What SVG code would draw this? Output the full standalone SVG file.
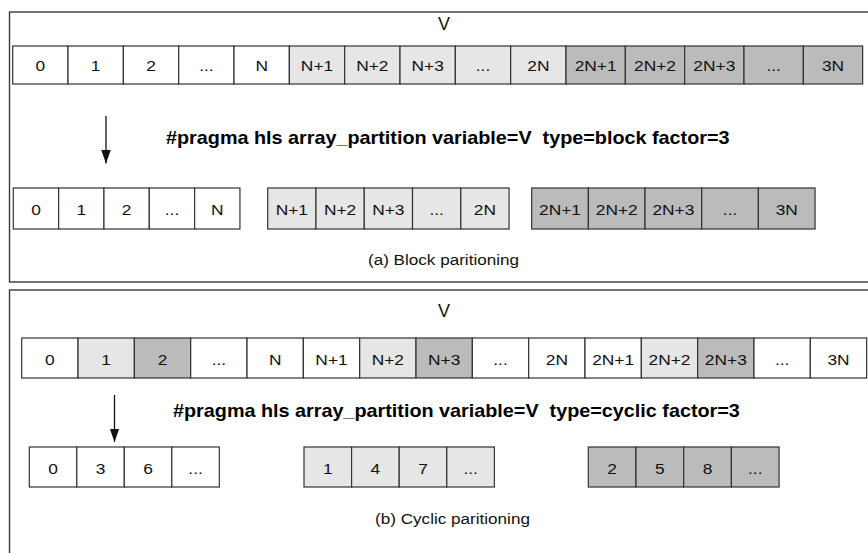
<svg xmlns="http://www.w3.org/2000/svg" width="868" height="553" viewBox="0 0 868 553">
  <style>
    .frame { fill: none; stroke: #3a3a3a; stroke-width: 1.4; }
    .c { stroke: #333; stroke-width: 1.2; }
    .w { fill: #ffffff; }
    .l { fill: #e6e6e6; }
    .d { fill: #bbbbbb; }
    .t { font-family: "Liberation Sans", Arial, sans-serif; font-size: 15.5px; fill: #111; text-anchor: middle; }
    .v { font-family: "Liberation Sans", Arial, sans-serif; font-size: 18px; fill: #111; text-anchor: middle; }
    .pragma { font-family: "Liberation Sans", Arial, sans-serif; font-size: 18px; font-weight: bold; fill: #000; white-space: pre; }
    .cap { font-family: "Liberation Sans", Arial, sans-serif; font-size: 15px; fill: #111; text-anchor: middle; }
    .arrow { stroke: #111; stroke-width: 1.3; fill: none; }
  </style>
  <defs>
    <marker id="head" markerUnits="userSpaceOnUse" markerWidth="15" markerHeight="11" refX="13.5" refY="4.75" orient="auto">
      <path d="M0,0 L13.5,4.75 L0,9.5 Z" fill="#111"/>
    </marker>
  </defs>

  <!-- (a) block partitioning panel -->
  <g id="panel-block">
    <rect class="frame" x="9.5" y="12" width="870" height="270"/>
    <text class="v" x="444" y="30">V</text>

    <!-- original array V -->
    <g id="block-source">
      <rect class="c w" x="12.7" y="46" width="55.33" height="38"/>
      <rect class="c w" x="68.03" y="46" width="55.33" height="38"/>
      <rect class="c w" x="123.36" y="46" width="55.33" height="38"/>
      <rect class="c w" x="178.69" y="46" width="55.33" height="38"/>
      <rect class="c w" x="234.02" y="46" width="55.33" height="38"/>
      <rect class="c l" x="289.35" y="46" width="55.33" height="38"/>
      <rect class="c l" x="344.68" y="46" width="55.33" height="38"/>
      <rect class="c l" x="400.01" y="46" width="55.33" height="38"/>
      <rect class="c l" x="455.34" y="46" width="55.33" height="38"/>
      <rect class="c l" x="510.67" y="46" width="55.33" height="38"/>
      <rect class="c d" x="566" y="46" width="59.33" height="38"/>
      <rect class="c d" x="625.33" y="46" width="59.33" height="38"/>
      <rect class="c d" x="684.66" y="46" width="59.33" height="38"/>
      <rect class="c d" x="743.99" y="46" width="59.33" height="38"/>
      <rect class="c d" x="803.32" y="46" width="59.33" height="38"/>
      <text class="t" transform="translate(40.37 71) scale(1.12 1)">0</text>
      <text class="t" transform="translate(95.7 71) scale(1.12 1)">1</text>
      <text class="t" transform="translate(151.03 71) scale(1.12 1)">2</text>
      <text class="t" transform="translate(206.36 71) scale(1.12 1)">...</text>
      <text class="t" transform="translate(261.69 71) scale(1.12 1)">N</text>
      <text class="t" transform="translate(317.02 71) scale(1.12 1)">N+1</text>
      <text class="t" transform="translate(372.35 71) scale(1.12 1)">N+2</text>
      <text class="t" transform="translate(427.68 71) scale(1.12 1)">N+3</text>
      <text class="t" transform="translate(483.01 71) scale(1.12 1)">...</text>
      <text class="t" transform="translate(538.34 71) scale(1.12 1)">2N</text>
      <text class="t" transform="translate(595.67 71) scale(1.12 1)">2N+1</text>
      <text class="t" transform="translate(655 71) scale(1.12 1)">2N+2</text>
      <text class="t" transform="translate(714.33 71) scale(1.12 1)">2N+3</text>
      <text class="t" transform="translate(773.66 71) scale(1.12 1)">...</text>
      <text class="t" transform="translate(832.99 71) scale(1.12 1)">3N</text>
    </g>

    <text class="pragma" transform="translate(166 144) scale(1.1 1)">#pragma hls array_partition variable=V  type=block factor=3</text>

    <!-- three block partitions -->
    <g id="block-part-0">
      <rect class="c w" x="13.3" y="188" width="45.33" height="41"/>
      <rect class="c w" x="58.63" y="188" width="45.33" height="41"/>
      <rect class="c w" x="103.96" y="188" width="45.33" height="41"/>
      <rect class="c w" x="149.29" y="188" width="45.33" height="41"/>
      <rect class="c w" x="194.62" y="188" width="45.33" height="41"/>
      <text class="t" transform="translate(35.97 215) scale(1.12 1)">0</text>
      <text class="t" transform="translate(81.3 215) scale(1.12 1)">1</text>
      <text class="t" transform="translate(126.63 215) scale(1.12 1)">2</text>
      <text class="t" transform="translate(171.96 215) scale(1.12 1)">...</text>
      <text class="t" transform="translate(217.29 215) scale(1.12 1)">N</text>
    </g>
    <g id="block-part-1">
      <rect class="c l" x="267.7" y="188" width="48.27" height="41"/>
      <rect class="c l" x="315.97" y="188" width="48.27" height="41"/>
      <rect class="c l" x="364.24" y="188" width="48.27" height="41"/>
      <rect class="c l" x="412.51" y="188" width="48.27" height="41"/>
      <rect class="c l" x="460.78" y="188" width="48.27" height="41"/>
      <text class="t" transform="translate(291.84 215) scale(1.12 1)">N+1</text>
      <text class="t" transform="translate(340.1 215) scale(1.12 1)">N+2</text>
      <text class="t" transform="translate(388.37 215) scale(1.12 1)">N+3</text>
      <text class="t" transform="translate(436.64 215) scale(1.12 1)">...</text>
      <text class="t" transform="translate(484.91 215) scale(1.12 1)">2N</text>
    </g>
    <g id="block-part-2">
      <rect class="c d" x="531.7" y="188" width="56.67" height="41"/>
      <rect class="c d" x="588.37" y="188" width="56.67" height="41"/>
      <rect class="c d" x="645.04" y="188" width="56.67" height="41"/>
      <rect class="c d" x="701.71" y="188" width="56.67" height="41"/>
      <rect class="c d" x="758.38" y="188" width="56.67" height="41"/>
      <text class="t" transform="translate(560.04 215) scale(1.12 1)">2N+1</text>
      <text class="t" transform="translate(616.7 215) scale(1.12 1)">2N+2</text>
      <text class="t" transform="translate(673.37 215) scale(1.12 1)">2N+3</text>
      <text class="t" transform="translate(730.04 215) scale(1.12 1)">...</text>
      <text class="t" transform="translate(786.71 215) scale(1.12 1)">3N</text>
    </g>

    <text class="cap" transform="translate(443.5 265) scale(1.14 1)">(a) Block paritioning</text>
  </g>

  <!-- (b) cyclic partitioning panel -->
  <g id="panel-cyclic">
    <rect class="frame" x="9.5" y="290" width="870" height="280"/>
    <text class="v" x="444" y="316.5">V</text>

    <g id="cyclic-source">
      <rect class="c w" x="21.7" y="338" width="56.33" height="40"/>
      <rect class="c l" x="78.03" y="338" width="56.33" height="40"/>
      <rect class="c d" x="134.36" y="338" width="56.33" height="40"/>
      <rect class="c w" x="190.69" y="338" width="56.33" height="40"/>
      <rect class="c w" x="247.02" y="338" width="56.33" height="40"/>
      <rect class="c w" x="303.35" y="338" width="56.33" height="40"/>
      <rect class="c l" x="359.68" y="338" width="56.33" height="40"/>
      <rect class="c d" x="416.01" y="338" width="56.33" height="40"/>
      <rect class="c w" x="472.34" y="338" width="56.33" height="40"/>
      <rect class="c w" x="528.67" y="338" width="56.33" height="40"/>
      <rect class="c w" x="585" y="338" width="56.33" height="40"/>
      <rect class="c l" x="641.33" y="338" width="56.33" height="40"/>
      <rect class="c d" x="697.66" y="338" width="56.33" height="40"/>
      <rect class="c w" x="753.99" y="338" width="56.33" height="40"/>
      <rect class="c w" x="810.32" y="338" width="56.33" height="40"/>
      <text class="t" transform="translate(49.87 364.5) scale(1.12 1)">0</text>
      <text class="t" transform="translate(106.2 364.5) scale(1.12 1)">1</text>
      <text class="t" transform="translate(162.53 364.5) scale(1.12 1)">2</text>
      <text class="t" transform="translate(218.86 364.5) scale(1.12 1)">...</text>
      <text class="t" transform="translate(275.19 364.5) scale(1.12 1)">N</text>
      <text class="t" transform="translate(331.52 364.5) scale(1.12 1)">N+1</text>
      <text class="t" transform="translate(387.85 364.5) scale(1.12 1)">N+2</text>
      <text class="t" transform="translate(444.18 364.5) scale(1.12 1)">N+3</text>
      <text class="t" transform="translate(500.51 364.5) scale(1.12 1)">...</text>
      <text class="t" transform="translate(556.84 364.5) scale(1.12 1)">2N</text>
      <text class="t" transform="translate(613.17 364.5) scale(1.12 1)">2N+1</text>
      <text class="t" transform="translate(669.5 364.5) scale(1.12 1)">2N+2</text>
      <text class="t" transform="translate(725.83 364.5) scale(1.12 1)">2N+3</text>
      <text class="t" transform="translate(782.16 364.5) scale(1.12 1)">...</text>
      <text class="t" transform="translate(838.49 364.5) scale(1.12 1)">3N</text>
    </g>

    <text class="pragma" transform="translate(173 417) scale(1.1 1)">#pragma hls array_partition variable=V  type=cyclic factor=3</text>

    <g id="cyclic-part-0">
      <rect class="c w" x="29.3" y="447" width="47.5" height="40"/>
      <rect class="c w" x="76.8" y="447" width="47.5" height="40"/>
      <rect class="c w" x="124.3" y="447" width="47.5" height="40"/>
      <rect class="c w" x="171.8" y="447" width="47.5" height="40"/>
      <text class="t" transform="translate(53.05 473.5) scale(1.12 1)">0</text>
      <text class="t" transform="translate(100.55 473.5) scale(1.12 1)">3</text>
      <text class="t" transform="translate(148.05 473.5) scale(1.12 1)">6</text>
      <text class="t" transform="translate(195.55 473.5) scale(1.12 1)">...</text>
    </g>
    <g id="cyclic-part-1">
      <rect class="c l" x="304" y="447" width="47.6" height="40"/>
      <rect class="c l" x="351.6" y="447" width="47.6" height="40"/>
      <rect class="c l" x="399.2" y="447" width="47.6" height="40"/>
      <rect class="c l" x="446.8" y="447" width="47.6" height="40"/>
      <text class="t" transform="translate(327.8 473.5) scale(1.12 1)">1</text>
      <text class="t" transform="translate(375.4 473.5) scale(1.12 1)">4</text>
      <text class="t" transform="translate(423 473.5) scale(1.12 1)">7</text>
      <text class="t" transform="translate(470.6 473.5) scale(1.12 1)">...</text>
    </g>
    <g id="cyclic-part-2">
      <rect class="c d" x="588.3" y="447" width="47.7" height="40"/>
      <rect class="c d" x="636" y="447" width="47.7" height="40"/>
      <rect class="c d" x="683.7" y="447" width="47.7" height="40"/>
      <rect class="c d" x="731.4" y="447" width="47.7" height="40"/>
      <text class="t" transform="translate(612.15 473.5) scale(1.12 1)">2</text>
      <text class="t" transform="translate(659.85 473.5) scale(1.12 1)">5</text>
      <text class="t" transform="translate(707.55 473.5) scale(1.12 1)">8</text>
      <text class="t" transform="translate(755.25 473.5) scale(1.12 1)">...</text>
    </g>

    <text class="cap" transform="translate(452.5 524) scale(1.14 1)">(b) Cyclic paritioning</text>
  </g>

  <!-- connectors -->
  <g id="connectors">
    <line class="arrow" x1="106" y1="116" x2="106" y2="163.5" marker-end="url(#head)"/>
    <line class="arrow" x1="114.5" y1="395" x2="114.5" y2="442" marker-end="url(#head)"/>
  </g>
</svg>
